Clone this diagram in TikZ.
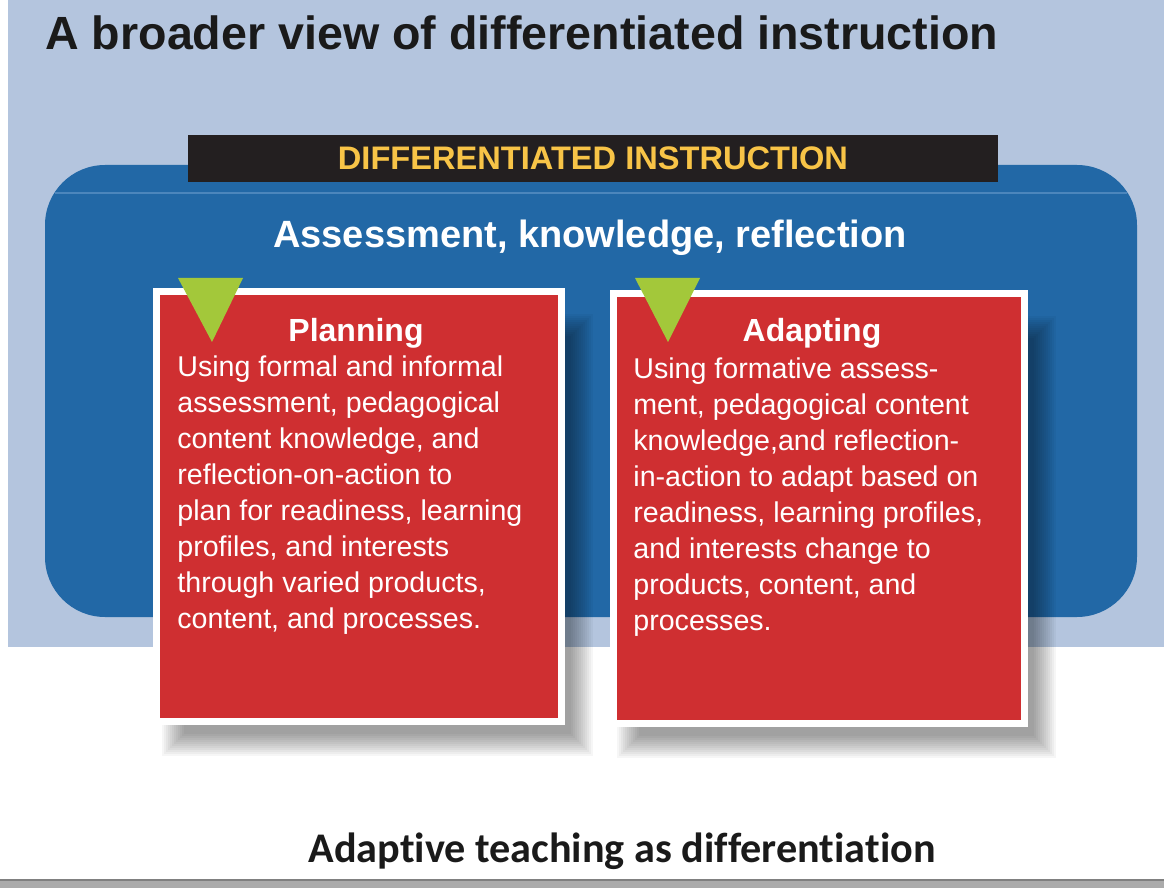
\documentclass[tikz,border=0pt]{standalone}
\usepackage{fontspec}
\setmainfont{Liberation Sans}
\newfontfamily\capfont[Ligatures=NoCommon]{Carlito}
\usetikzlibrary{positioning}
\definecolor{skyback}{HTML}{B4C5DE}
\definecolor{diblue}{HTML}{2268A6}
\definecolor{bluerim}{HTML}{4C86BC}
\definecolor{cardred}{HTML}{CF2F31}
\definecolor{barblack}{HTML}{231F20}
\definecolor{baryellow}{HTML}{F8C447}
\definecolor{tipgreen}{HTML}{A3C83A}
\definecolor{titleblack}{HTML}{1A1A1A}
\definecolor{footgray}{HTML}{ABABAB}
\tikzset{
  cardbox/.style={draw=white, line width=3.5pt, fill=cardred, inner sep=0pt},
  cardhead/.style={text=white, anchor=base, inner sep=0pt, font=\fontsize{16}{18}\selectfont\bfseries},
  cardbody/.style={text=white, anchor=base west, align=left, inner sep=0pt, font=\fontsize{14.3}{18}\selectfont},
  tipmark/.style={fill=tipgreen},
  softshadow/.style={fill=black, opacity=0.035},
}
\begin{document}
\begin{tikzpicture}[x=0.5pt, y=-0.5pt]
\useasboundingbox (0,0) rectangle (1164,888);
\fill[white] (0,0) rectangle (1164,888);
% light background and blue panel
\fill[skyback] (8,0) rectangle (1164,647);
\fill[diblue, rounded corners=30pt] (45,165) rectangle (1137,617);
\draw[bluerim, line width=1pt] (55,193) -- (1127,193);

\node (maintitle) [anchor=base west, inner sep=0pt, text=titleblack, font=\fontsize{23.3}{26}\selectfont\bfseries] at (45,50) {A broader view of differentiated instruction};
\node (dibar) [fill=barblack, minimum width=405pt, minimum height=23.5pt, inner sep=0pt, text=baryellow, font=\fontsize{16.3}{18}\selectfont\bfseries] at (593,158.5) {DIFFERENTIATED INSTRUCTION};
\node (akr) [anchor=base, inner sep=0pt, text=white, font=\fontsize{19}{22}\selectfont\bfseries] at (590,248) {Assessment, knowledge, reflection};

% soft shadows under the cards
\foreach \s in {0,...,11} {
  \fill[softshadow] (184-2*\s,336-2*\s) rectangle (571+2*\s,734+2*\s);
  \fill[softshadow] (639-2*\s,338-2*\s) rectangle (1034+2*\s,736+2*\s);
}

% cards
\node (plancard) [cardbox, minimum width=202.5pt, minimum height=215pt] at (359,506.5) {};
\node (adaptcard) [cardbox, minimum width=205.5pt, minimum height=215pt] at (819,508.5) {};
\fill[tipmark] (178,278) -- (243,278) -- (212,342) -- cycle;
\fill[tipmark] (635,278) -- (700,278) -- (668,342) -- cycle;

\node (planhead) [cardhead] at (356,342) {Planning};
\node (planbody) [cardbody] at (177,628) {Using formal and informal\\assessment, pedagogical\\content knowledge, and\\reflection-on-action to\\plan for readiness, learning\\profiles, and interests\\through varied products,\\content, and processes.};
\node (adapthead) [cardhead] at (812,342) {Adapting};
\node (adaptbody) [cardbody] at (633,630) {Using formative assess-\\ment, pedagogical content\\knowledge,and reflection-\\in-action to adapt based on\\readiness, learning profiles,\\and interests change to\\products, content, and\\processes.};

\node (caption) [anchor=base, inner sep=0pt, text=titleblack, font=\fontsize{21.1}{24}\selectfont\capfont\bfseries] at (622,862) {Adaptive teaching as differentiation};
\fill[footgray] (0,880) rectangle (1164,888);
\draw[gray, line width=0.8pt] (0,880) -- (1164,880);
\end{tikzpicture}
\end{document}
